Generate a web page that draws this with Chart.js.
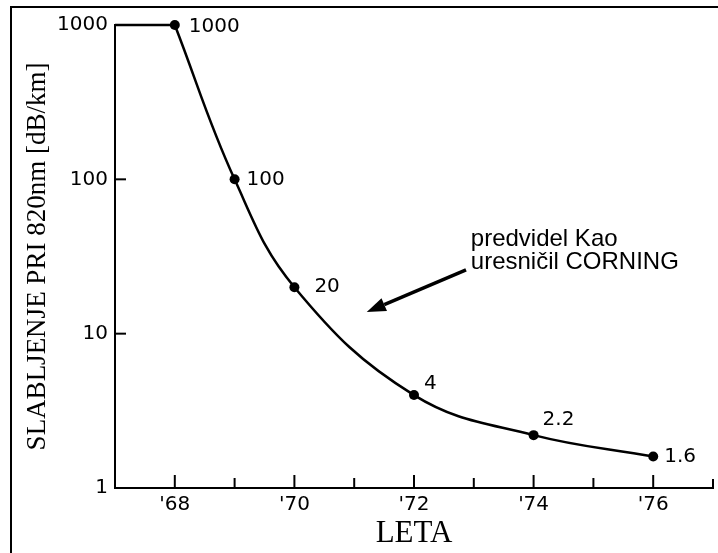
<!DOCTYPE html>
<html>
<head>
<meta charset="utf-8">
<script src="https://cdn.jsdelivr.net/npm/chart.js@4"></script>
<style>
  html, body { margin: 0; padding: 0; background: #fff; }
  #wrap { position: relative; width: 718px; height: 553px; }
  #frame { position: absolute; left: 10px; top: 6px; right: 0; bottom: 0;
           border-left: 2px solid #000; border-top: 2px solid #000; pointer-events: none; }
</style>
</head>
<body>
<div id="wrap">
  <canvas id="chart" width="718" height="553"></canvas>
  <div id="frame"></div>
</div>
<script>
// data
let startYear = 67;
let endYear = 77;
let years = [68, 69, 70, 72, 74, 76];
let loss = [1000, 100, 20, 4, 2.2, 1.6];
let pointLabels = ["1000", "100", "20", "4", "2.2", "1.6"];
let yTicks = [1, 10, 100, 1000];
let xLabelYears = [68, 70, 72, 74, 76];
let noteLines = ["predvidel Kao", "uresničil CORNING"];

// label offsets next to each point (px)
let labelOffsets = [[14, 2], [12, 0], [20, 0], [10, -11], [9, -15], [11, 0]];

let numFont = "20px 'DejaVu Sans'";

const extras = {
  id: "extras",
  afterDatasetsDraw(chart) {
    const ctx = chart.ctx;
    const xs = chart.scales.x, ys = chart.scales.y;
    const a = chart.chartArea;
    ctx.save();
    ctx.strokeStyle = "#000";
    ctx.fillStyle = "#000";
    ctx.lineWidth = 2;
    // inward ticks on x axis
    for (let yr = startYear + 1; yr <= endYear; yr++) {
      let px = xs.getPixelForValue(yr);
      let len = yr === endYear ? 9 : (yr % 2 === 0 ? 13 : 10);
      ctx.beginPath();
      ctx.moveTo(px, a.bottom);
      ctx.lineTo(px, a.bottom - len);
      ctx.stroke();
    }
    // inward ticks on y axis
    [10, 100].forEach(v => {
      let py = ys.getPixelForValue(v);
      ctx.beginPath();
      ctx.moveTo(a.left, py);
      ctx.lineTo(a.left + 11, py);
      ctx.stroke();
    });
    // point labels
    ctx.font = numFont;
    ctx.textAlign = "left";
    ctx.textBaseline = "middle";
    years.forEach((yr, i) => {
      let px = xs.getPixelForValue(yr), py = ys.getPixelForValue(loss[i]);
      ctx.fillText(pointLabels[i], px + labelOffsets[i][0], py + labelOffsets[i][1]);
    });
    // note + arrow
    let tx = xs.getPixelForValue(72.95), ty = ys.getPixelForValue(37);
    ctx.font = "24px 'Liberation Sans'";
    ctx.textBaseline = "alphabetic";
    ctx.fillText(noteLines[0], tx, ty);
    ctx.fillText(noteLines[1], tx, ty + 23);
    let x1 = xs.getPixelForValue(72.87), y1 = ys.getPixelForValue(25.9);
    let x2 = xs.getPixelForValue(71.21), y2 = ys.getPixelForValue(13.8);
    let ang = Math.atan2(y2 - y1, x2 - x1);
    let hl = 19, hw = 7;
    let bx = x2 - hl * Math.cos(ang), by = y2 - hl * Math.sin(ang);
    ctx.lineWidth = 3.5;
    ctx.beginPath();
    ctx.moveTo(x1, y1);
    ctx.lineTo(bx, by);
    ctx.stroke();
    ctx.beginPath();
    ctx.moveTo(x2, y2);
    ctx.lineTo(bx + hw * Math.sin(ang), by - hw * Math.cos(ang));
    ctx.lineTo(bx - hw * Math.sin(ang), by + hw * Math.cos(ang));
    ctx.closePath();
    ctx.fill();
    ctx.restore();
  }
};

new Chart(document.getElementById("chart"), {
  type: "line",
  data: {
    datasets: [
      {
        data: [{ x: startYear, y: loss[0] }, { x: years[0], y: loss[0] }],
        borderColor: "#000", borderWidth: 2.5, pointRadius: 0, tension: 0, clip: false
      },
      {
        data: years.map((yr, i) => ({ x: yr, y: loss[i] })),
        borderColor: "#000", borderWidth: 2.5, tension: 0.4, clip: false,
        pointRadius: 5, pointBackgroundColor: "#000", pointBorderWidth: 0
      }
    ]
  },
  options: {
    responsive: false,
    animation: false,
    events: [],
    layout: { padding: { top: 25, right: 2, left: 0, bottom: 0 } },
    plugins: { legend: { display: false }, tooltip: { enabled: false } },
    scales: {
      x: {
        type: "linear", min: startYear, max: endYear,
        afterFit: s => { s.height = 65; },
        grid: { display: false, drawTicks: false },
        border: { display: true, color: "#000", width: 2 },
        ticks: {
          stepSize: 1, padding: 5, color: "#000", maxRotation: 0, autoSkip: false,
          font: { family: "DejaVu Sans", size: 20 },
          callback: v => xLabelYears.includes(v) ? "'" + v : ""
        },
        title: {
          display: true, text: "LETA", color: "#000",
          font: { family: "Liberation Serif", size: 31 },
          padding: { top: 0, bottom: 1 }
        }
      },
      y: {
        type: "logarithmic", min: 1, max: 1000,
        afterFit: s => { s.width = 115; },
        afterBuildTicks: s => { s.ticks = yTicks.map(v => ({ value: v })); },
        grid: { display: false, drawTicks: false },
        border: { display: true, color: "#000", width: 2 },
        ticks: {
          padding: 7, color: "#000",
          font: { family: "DejaVu Sans", size: 20 },
          callback: v => String(v)
        },
        title: {
          display: true, text: "SLABLJENJE PRI 820nm [dB/km]", color: "#000",
          font: { family: "Liberation Serif", size: 27 },
          padding: { top: 22, bottom: 0 }
        }
      }
    }
  },
  plugins: [extras]
});
</script>
</body>
</html>
